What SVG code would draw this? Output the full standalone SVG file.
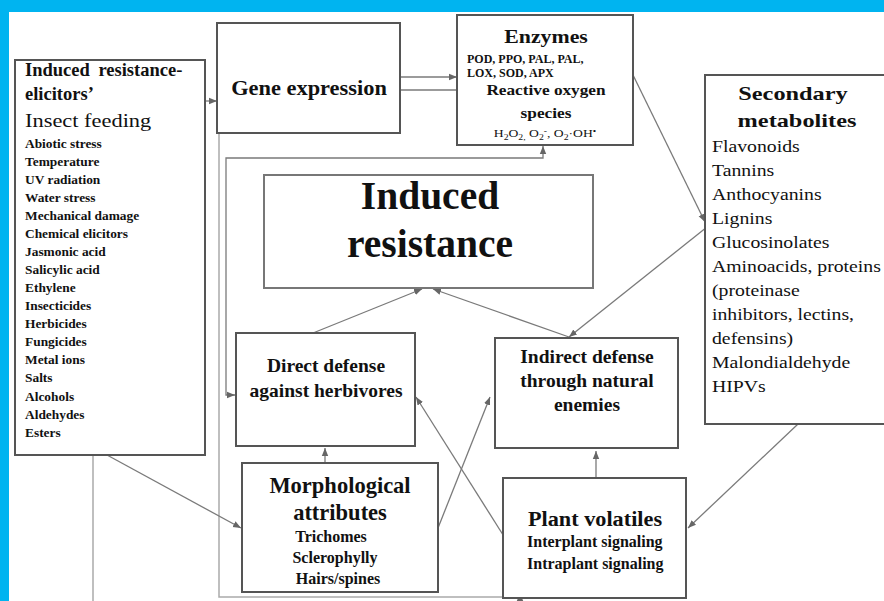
<svg xmlns="http://www.w3.org/2000/svg" width="884" height="601" viewBox="0 0 884 601">
<defs>
<marker id="ah" markerWidth="8" markerHeight="8" refX="8" refY="4" orient="auto-start-reverse" markerUnits="userSpaceOnUse">
<path d="M0,0.8 L8,4 L0,7.2 z" fill="#666"/>
</marker>
<style>
.box{fill:#fff;stroke:#555;stroke-width:2}
.t{font-family:"Liberation Serif","Times New Roman",serif;fill:#111}
.b{font-weight:bold}
.c{text-anchor:middle}
.ln{fill:none;stroke:#7a7a7a;stroke-width:1.3}
.lt{fill:none;stroke:#aaa;stroke-width:1.5}
.ar{marker-end:url(#ah)}
</style>
</defs>
<rect x="0" y="0" width="884" height="601" fill="#fff"/>
<rect x="0" y="0" width="884" height="12" fill="#00B4F0"/>
<rect x="0" y="0" width="9" height="601" fill="#00B4F0"/>

<g id="connectors">
<path class="lt" d="M93,455 V601"/>
<path class="lt" d="M219,113 V597 H560"/>
<path class="ln ar" d="M520,597 V593"/>
<path class="ln ar" d="M205,101 H217"/>
<path class="ln ar" d="M400,77 H457"/>
<path class="ln" d="M400,90 H457"/>
<path class="ln ar" d="M235,395 H226 V158 H543 V146" style="marker-start:url(#ah)"/>
<path class="ln ar" d="M107,455 L241,528"/>
<path class="ln ar" d="M325,463 V448"/>
<path class="ln ar" d="M438,528 L490,397"/>
<path class="ln ar" d="M505,538 L416,397"/>
<path class="ln ar" d="M596,478 V451"/>
<path class="ln ar" d="M798,424 L688,528"/>
<path class="ln ar" d="M313,333 L422,289"/>
<path class="ln ar" d="M569,337 L433,289"/>
<path class="ln ar" d="M707,227 L569,337"/>
<path class="ln ar" d="M633,75 L705,222"/>
</g>

<g id="elicitors">
<rect class="box" x="15" y="60" width="190" height="395"/>
<text class="t b" x="25" y="76" font-size="18.5" word-spacing="4">Induced resistance-</text>
<text class="t b" x="25" y="100" font-size="18.5">elicitors’</text>
<text class="t" transform="translate(25,127) scale(1.18,1)" font-size="19">Insect feeding</text>
<g class="t b" font-size="13.4">
<text x="25" y="148">Abiotic stress</text>
<text x="25" y="166">Temperature</text>
<text x="25" y="184">UV radiation</text>
<text x="25" y="202">Water stress</text>
<text x="25" y="220">Mechanical damage</text>
<text x="25" y="238">Chemical elicitors</text>
<text x="25" y="256">Jasmonic acid</text>
<text x="25" y="274">Salicylic acid</text>
<text x="25" y="292">Ethylene</text>
<text x="25" y="310">Insecticides</text>
<text x="25" y="328">Herbicides</text>
<text x="25" y="346">Fungicides</text>
<text x="25" y="364">Metal ions</text>
<text x="25" y="382">Salts</text>
<text x="25" y="401">Alcohols</text>
<text x="25" y="419">Aldehydes</text>
<text x="25" y="437">Esters</text>
</g>
</g>

<g id="gene-expression">
<rect class="box" x="217" y="23" width="183" height="110"/>
<text class="t b c" transform="translate(309,95) scale(1.12,1)" font-size="20">Gene expression</text>
</g>

<g id="enzymes">
<rect class="box" x="457" y="15" width="176" height="130"/>
<text class="t b c" transform="translate(546,43) scale(1.12,1)" font-size="19.5">Enzymes</text>
<text class="t b" x="467" y="63" font-size="12">POD, PPO, PAL, PAL,</text>
<text class="t b" x="467" y="77" font-size="12">LOX, SOD, APX</text>
<text class="t b c" transform="translate(546,95) scale(1.15,1)" font-size="15">Reactive oxygen</text>
<text class="t b c" transform="translate(546,118) scale(1.15,1)" font-size="15">species</text>
<text class="t c" transform="translate(545,137) scale(1.3,1)" font-size="10.5">H<tspan font-size="7.5" dy="2.5">2</tspan><tspan dy="-2.5">O</tspan><tspan font-size="7.5" dy="2.5">2,</tspan><tspan dy="-2.5"> O</tspan><tspan font-size="7.5" dy="2.5">2</tspan><tspan font-size="7.5" dy="-6">-</tspan><tspan dy="3.5">, O</tspan><tspan font-size="7.5" dy="2.5">2</tspan><tspan dy="-2.5">·OH</tspan><tspan font-size="7.5" dy="-3">•</tspan></text>
</g>

<g id="secondary-metabolites">
<rect class="box" x="705" y="75" width="200" height="349"/>
<text class="t b c" transform="translate(793,100) scale(1.28,1)" font-size="19">Secondary</text>
<text class="t b c" transform="translate(797,127) scale(1.28,1)" font-size="19">metabolites</text>
<g class="t" font-size="16.6">
<text transform="translate(712,152) scale(1.19,1)">Flavonoids</text>
<text transform="translate(712,176) scale(1.19,1)">Tannins</text>
<text transform="translate(712,200) scale(1.19,1)">Anthocyanins</text>
<text transform="translate(712,224) scale(1.19,1)">Lignins</text>
<text transform="translate(712,248) scale(1.19,1)">Glucosinolates</text>
<text transform="translate(712,272) scale(1.19,1)">Aminoacids, proteins</text>
<text transform="translate(712,296) scale(1.19,1)">(proteinase</text>
<text transform="translate(712,320) scale(1.19,1)">inhibitors, lectins,</text>
<text transform="translate(712,344) scale(1.19,1)">defensins)</text>
<text transform="translate(712,368) scale(1.19,1)">Malondialdehyde</text>
<text transform="translate(712,392) scale(1.19,1)">HIPVs</text>
</g>
</g>

<g id="induced-resistance">
<rect class="box" x="264" y="175" width="329" height="113" style="stroke:#777"/>
<text class="t b c" x="430" y="209" font-size="39.5">Induced</text>
<text class="t b c" x="430" y="257" font-size="39.5">resistance</text>
</g>

<g id="direct-defense">
<rect class="box" x="236" y="333" width="179" height="113"/>
<text class="t b c" x="326" y="372" font-size="19.5">Direct defense</text>
<text class="t b c" x="326" y="397" font-size="19.5">against herbivores</text>
</g>

<g id="indirect-defense">
<rect class="box" x="495" y="338" width="183" height="110"/>
<text class="t b c" x="587" y="363" font-size="19.5">Indirect defense</text>
<text class="t b c" x="587" y="387" font-size="19.5">through natural</text>
<text class="t b c" x="587" y="411" font-size="19.5">enemies</text>
</g>

<g id="morphological">
<rect class="box" x="242" y="463" width="196" height="129"/>
<text class="t b c" x="340" y="493" font-size="22.5">Morphological</text>
<text class="t b c" x="340" y="520" font-size="22.5">attributes</text>
<text class="t b c" x="331" y="542" font-size="16">Trichomes</text>
<text class="t b c" x="335" y="563" font-size="16">Sclerophylly</text>
<text class="t b c" x="338" y="584" font-size="16">Hairs/spines</text>
</g>

<g id="plant-volatiles">
<rect class="box" x="503" y="478" width="183" height="120"/>
<text class="t b c" transform="translate(595,526) scale(1.06,1)" font-size="21">Plant volatiles</text>
<text class="t b" x="527" y="547" font-size="16">Interplant signaling</text>
<text class="t b" x="527" y="569" font-size="16">Intraplant signaling</text>
</g>
</svg>
